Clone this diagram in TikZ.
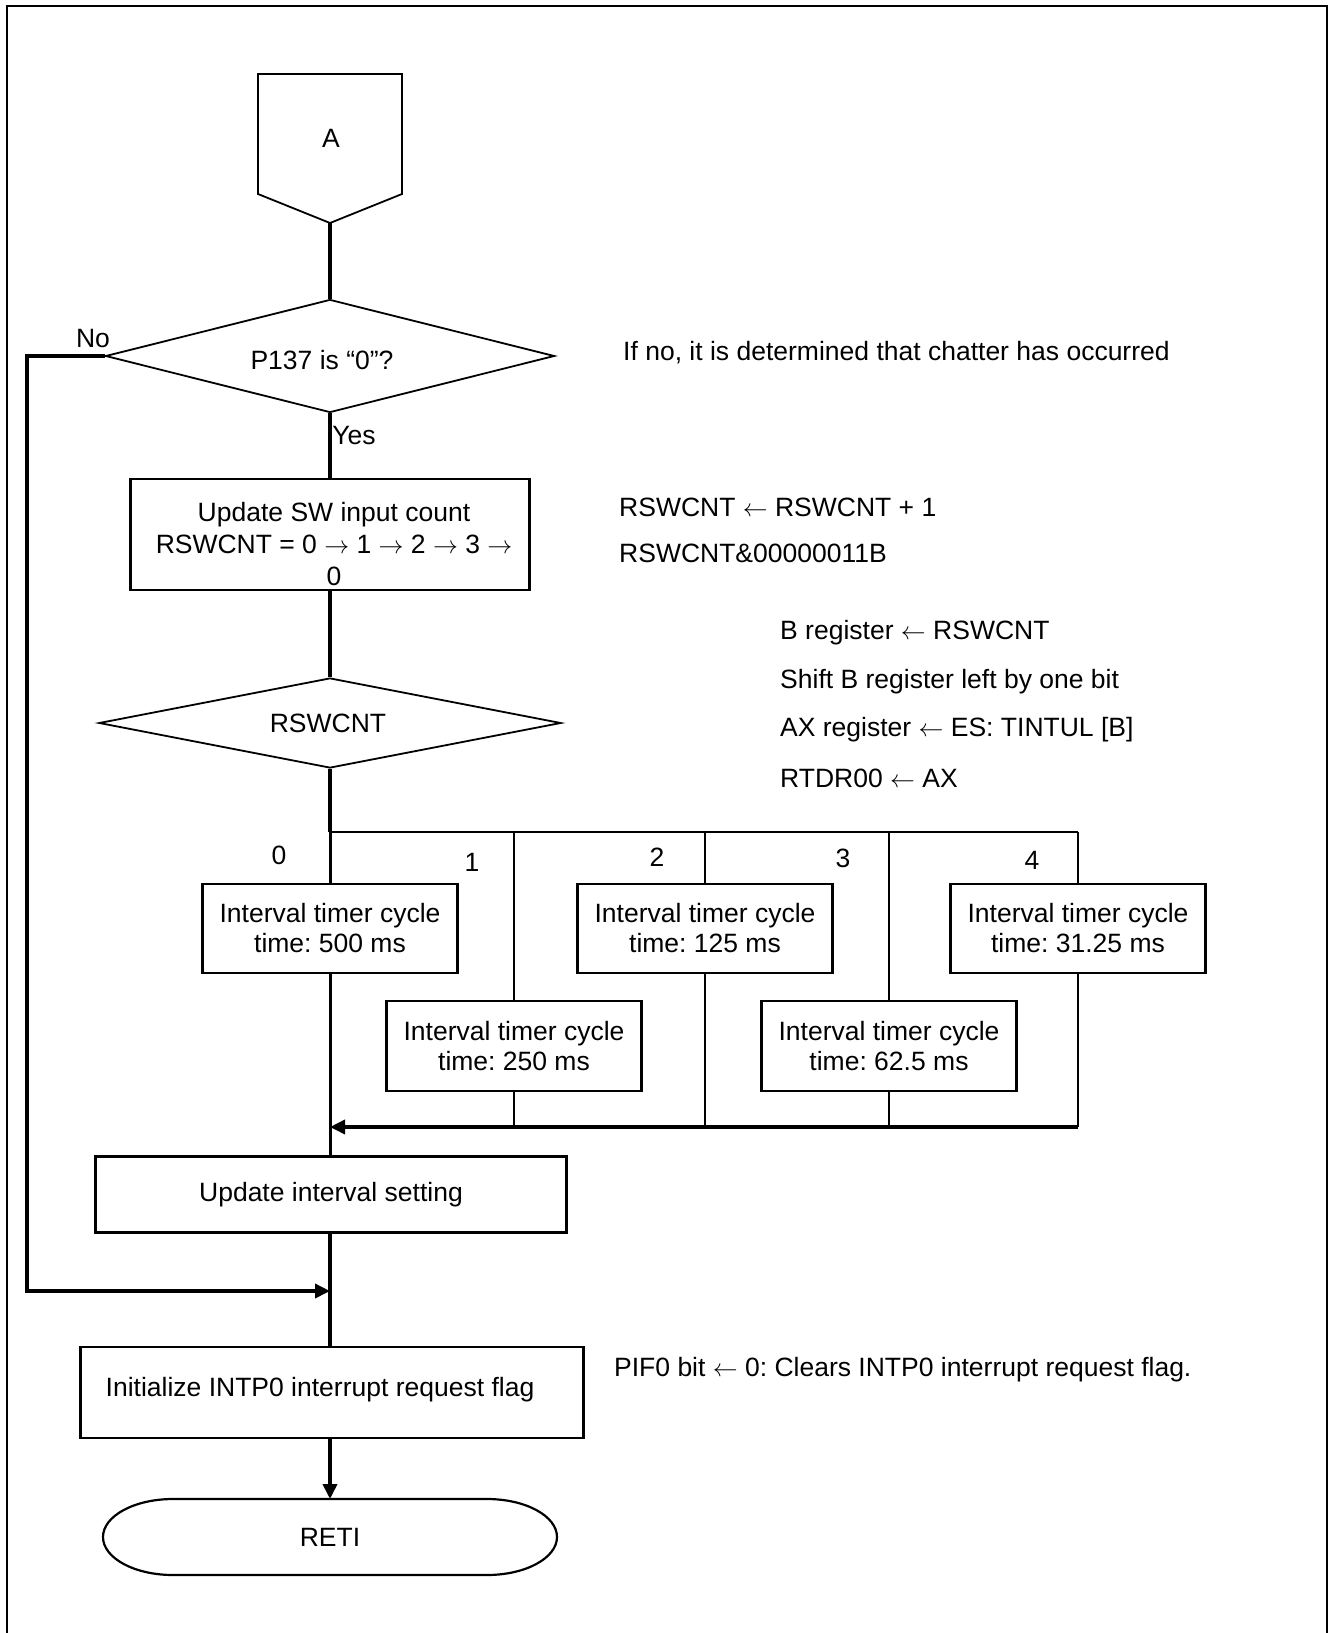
\documentclass[tikz,border=0pt]{standalone}
\usepackage{fontspec}
\setmainfont{Liberation Sans}
\frenchspacing
\usetikzlibrary{arrows.meta,shapes.geometric,calc}
\tikzset{
  txt/.style={inner sep=0pt, font=\fontsize{26.5}{30}\selectfont},
  procbox/.style={draw, line width=2.3pt, inner sep=0pt, align=center, font=\fontsize{26.5}{30}\selectfont},
  decision/.style={draw, diamond, line width=1.8pt, inner sep=0pt, font=\fontsize{26.5}{30}\selectfont},
  flow/.style={line width=3.4pt},
  flowarrow/.style={line width=3.6pt, -{Triangle[length=15pt,width=14pt]}},
  branchline/.style={line width=2.3pt},
  branchv/.style={line width=2pt},
  mainv/.style={line width=3pt},
}
\begin{document}
\begin{tikzpicture}[x=1pt,y=-1pt]
\useasboundingbox (0,0) rectangle (1333,1633);
% frame
\draw[line width=2.6pt] (7,1640) -- (7,6) -- (1327,6) -- (1327,1640);

% connector A
\draw[line width=1.8pt] (258,74) -- (402,74) -- (402,194) -- (330,223) -- (258,194) -- cycle;
\node[txt] (A) at (331,138) {A};
\coordinate (Atip) at (330,223);

% decision 1
\node[decision, minimum width=449pt, minimum height=113pt] (d1) at (330,356) {};
\node[txt] (d1t) at (322,360) {P137 is “0”?};
\node[txt] (no) at (93,339) {No};
\node[txt] (yes) at (354,436) {Yes};
\node[txt, anchor=west] (c1) at (623,353) {If no, it is determined that chatter has occurred};

% box 1
\node[procbox, minimum width=399pt, minimum height=111pt] (b1) at (330,534.5) {};
\node[txt, align=center, font=\fontsize{26.5}{32}\selectfont] (b1t) at (334,544) {Update SW input count\\RSWCNT = 0 $\rightarrow$ 1 $\rightarrow$ 2 $\rightarrow$ 3 $\rightarrow$\\0};
\node[txt, anchor=west] (c2) at (619,507) {RSWCNT $\leftarrow$ RSWCNT + 1};
\node[txt, anchor=west] (c3) at (619,553) {RSWCNT\&00000011B};

% decision 2
\node[decision, minimum width=462pt, minimum height=90pt] (d2) at (330,723) {};
\node[txt] (d2t) at (328,723) {RSWCNT};
\node[txt, anchor=west] (c4) at (780,633) {B register $\leftarrow$ RSWCNT};
\node[txt, anchor=west] (c5) at (780,682) {Shift B register left by one bit};
\node[txt, anchor=west] (c6) at (780,730) {AX register $\leftarrow$ ES: TINTUL [B]};
\node[txt, anchor=west] (c7) at (780,778) {RTDR00 $\leftarrow$ AX};

% branch boxes
\node[procbox, minimum width=255pt, minimum height=89pt] (t0) at (330,928.5) {Interval timer cycle\\time: 500 ms};
\node[procbox, minimum width=255pt, minimum height=90pt] (t1) at (514,1046) {Interval timer cycle\\time: 250 ms};
\node[procbox, minimum width=255pt, minimum height=89pt] (t2) at (705,928.5) {Interval timer cycle\\time: 125 ms};
\node[procbox, minimum width=255pt, minimum height=90pt] (t3) at (889,1046) {Interval timer cycle\\time: 62.5 ms};
\node[procbox, minimum width=255pt, minimum height=89pt] (t4) at (1078,928.5) {Interval timer cycle\\time: 31.25 ms};

\node[txt] (l0) at (279,855) {0};
\node[txt] (l1) at (472,862) {1};
\node[txt] (l2) at (657,857) {2};
\node[txt] (l3) at (843,858) {3};
\node[txt] (l4) at (1032,860) {4};

\coordinate (bj0) at (330,832);
\coordinate (bj1) at (514,832);
\coordinate (bj2) at (705,832);
\coordinate (bj3) at (889,832);
\coordinate (bj4) at (1078,832);
\coordinate (mj0) at (330,1127);
\coordinate (mj1) at (514,1127);
\coordinate (mj2) at (705,1127);
\coordinate (mj3) at (889,1127);
\coordinate (mj4) at (1078,1127);

% update interval
\node[procbox, minimum width=471pt, minimum height=76pt] (upd) at (331,1194.5) {Update interval setting};

% init box
\node[procbox, minimum width=503pt, minimum height=91pt] (init) at (332,1392.5) {};
\node[txt] (initt) at (320,1390) {Initialize INTP0 interrupt request flag};
\node[txt, anchor=west] (c8) at (614,1370) {PIF0 bit $\leftarrow$ 0: Clears INTP0 interrupt request flag.};

% RETI terminal
\node[txt, minimum width=454pt, minimum height=76pt, outer sep=0pt] (reti) at (330,1537) {RETI};
\draw[line width=2.2pt] ($(reti.north west)+(70,0)$) -- ($(reti.north east)+(-70,0)$)
  .. controls +(38.7,0) and +(0,-21) .. (reti.east)
  .. controls +(0,21) and +(38.7,0) .. ($(reti.south east)+(-70,0)$)
  -- ($(reti.south west)+(70,0)$)
  .. controls +(-38.7,0) and +(0,21) .. (reti.west)
  .. controls +(0,-21) and +(-38.7,0) .. ($(reti.north west)+(70,0)$) -- cycle;

% connectors
\coordinate (nlc) at (27,356);
\coordinate (nj) at (330,1291);
\coordinate (updin) at (330,1156.5);
\coordinate (updout) at (330,1232.5);
\coordinate (initin) at (330,1347);
\coordinate (initout) at (330,1438);
\draw[flow] (Atip) -- (d1.north);
\draw[flow] (d1.south) -- (b1.north);
\draw[flow] (b1.south) -- (d2.north);
\draw[flow] (d2.south) -- (bj0);
\draw[branchline] (bj0) -- (bj4);
\draw[mainv] (bj0) -- (t0.north);
\draw[branchv] (bj1) -- (t1.north);
\draw[branchv] (bj2) -- (t2.north);
\draw[branchv] (bj3) -- (t3.north);
\draw[branchv] (bj4) -- (t4.north);
\draw[mainv] (t0.south) -- (updin);
\draw[branchv] (t1.south) -- (mj1);
\draw[branchv] (t2.south) -- (mj2);
\draw[branchv] (t3.south) -- (mj3);
\draw[branchv] (t4.south) -- (mj4);
\draw[flowarrow] (mj4) -- (mj0);
\draw[flowarrow] (d1.west) -- (nlc) |- (nj);
\draw[flow] (updout) -- (initin);
\draw[flowarrow] (initout) -- (reti.north);
\end{tikzpicture}
\end{document}
